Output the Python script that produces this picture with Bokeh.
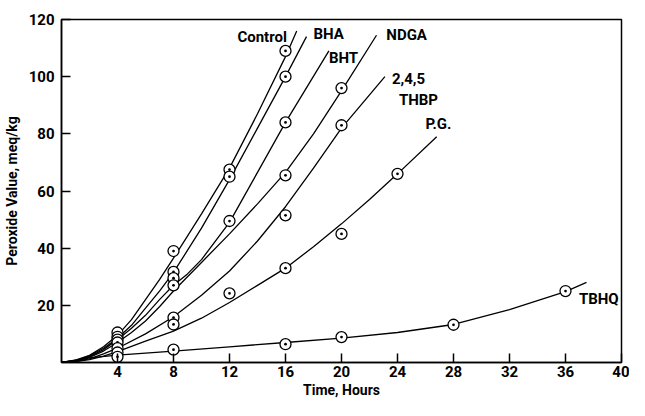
from bokeh.plotting import figure
from bokeh.models import Range1d, FixedTicker, ColumnDataSource
from bokeh.core.properties import value
from bokeh.embed import file_html
from bokeh.resources import INLINE

FONT = "Roboto"

# ---- fitted curves ----
control_x = [0, 1, 2, 3, 4, 5, 6, 7, 8, 10, 12, 14, 16, 16.8]
control_y = [0, 0.8, 2.5, 5.5, 9.5, 15, 22, 29, 36.5, 52, 68, 87, 107, 116]
bha_x = [0, 1, 2, 3, 4, 5, 6, 7, 8, 10, 12, 14, 16, 17.5]
bha_y = [0, 0.7, 2.3, 5, 8.5, 13, 19, 25, 31.5, 47, 64, 82, 100, 114]
bht_x = [0, 1, 2, 3, 4, 5, 6, 7, 8, 9, 10, 12, 14, 16, 19.1]
bht_y = [0, 0.6, 2, 4.5, 8, 12, 16.5, 22, 27, 31, 36, 49, 66.5, 84, 109]
ndga_x = [0, 1, 2, 3, 4, 5, 6, 7, 8, 9, 10, 12, 14, 16, 18, 20, 22.5]
ndga_y = [0, 0.5, 1.8, 4, 7, 10.5, 14.5, 19.5, 25, 30, 35, 45, 55.5, 66.5, 80, 95, 114.5]
thbp_x = [0, 1, 2, 3, 4, 6, 8, 10, 12, 14, 16, 18, 20, 23.1]
thbp_y = [0, 0.4, 1.3, 3, 5, 10, 16, 23.5, 32, 42.5, 54.5, 68, 82, 100]
pg_x = [0, 1, 2, 3, 4, 6, 8, 10, 12, 14, 16, 18, 20, 22, 24, 26.8]
pg_y = [0, 0.3, 1, 2.2, 3.8, 7.5, 11, 15.5, 21, 27, 33, 40.5, 48.5, 57, 66, 79]
tbhq_x = [0, 1, 2, 4, 8, 12, 16, 20, 24, 28, 32, 36, 37.5]
tbhq_y = [0, 0.8, 1.6, 2.6, 4, 5.5, 7, 8.5, 10.5, 13.3, 18.5, 24.8, 28]

# ---- measured points ----
control_px = [4, 8, 12, 16]
control_py = [10.5, 39, 67.5, 109]
bha_px = [4, 8, 12, 16]
bha_py = [9, 31.7, 65, 100]
bht_px = [4, 8, 12, 16]
bht_py = [8, 29.5, 49.5, 84]
ndga_px = [4, 8, 16, 20]
ndga_py = [7, 27, 65.5, 96]
thbp_px = [4, 8, 16, 20]
thbp_py = [5, 15.7, 51.5, 83]
pg_px = [4, 8, 12, 16, 20, 24]
pg_py = [3.5, 13.3, 24.2, 33, 45, 66]
tbhq_px = [4, 8, 16, 20, 28, 36]
tbhq_py = [2, 4.5, 6.4, 8.9, 13.2, 25]

x_ticks = [4, 8, 12, 16, 20, 24, 28, 32, 36, 40]
y_ticks = [20, 40, 60, 80, 100, 120]

label_text = ["Control", "BHA", "BHT", "NDGA", "2,4,5", "THBP", "P.G.", "TBHQ"]
label_x = [16.1, 18.0, 19.1, 23.2, 23.6, 24.1, 26.0, 39.8]
label_y = [114, 114.8, 106.5, 114.7, 99.3, 92, 83.4, 22.3]
label_align = ["right", "left", "left", "left", "left", "left", "left", "right"]

p = figure(width=629, height=400, output_backend="svg", toolbar_location=None,
           x_range=Range1d(0, 40), y_range=Range1d(0, 120),
           min_border_left=61, min_border_right=8, min_border_top=19,
           min_border_bottom=36)
p.background_fill_color = "white"
p.border_fill_color = "white"
p.outline_line_color = "black"
p.outline_line_width = 1.5
p.xgrid.visible = False
p.ygrid.visible = False

for ax, ticks in ((p.xaxis[0], x_ticks), (p.yaxis[0], y_ticks)):
    ax.ticker = FixedTicker(ticks=ticks)
    ax.major_tick_in = 9
    ax.major_tick_out = 0
    ax.minor_tick_in = 0
    ax.minor_tick_out = 0
    ax.axis_line_color = "black"
    ax.axis_line_width = 1.5
    ax.major_tick_line_width = 1.5
    ax.major_label_text_font = FONT
    ax.major_label_text_font_style = "bold"
    ax.major_label_text_font_size = "15px"
    ax.major_label_text_color = "black"
    ax.axis_label_text_font = FONT
    ax.axis_label_text_font_style = "bold"
    ax.axis_label_text_font_size = "14px"
    ax.axis_label_text_color = "black"

p.xaxis.axis_label = "Time, Hours"
p.yaxis.axis_label = "Peroxide Value, meq/kg"
p.xaxis.major_label_standoff = 3
p.xaxis.axis_label_standoff = 2
p.yaxis.major_label_standoff = 7
p.yaxis.axis_label_standoff = 6

series = [
    (control_x, control_y, control_px, control_py),
    (bha_x, bha_y, bha_px, bha_py),
    (bht_x, bht_y, bht_px, bht_py),
    (ndga_x, ndga_y, ndga_px, ndga_py),
    (thbp_x, thbp_y, thbp_px, thbp_py),
    (pg_x, pg_y, pg_px, pg_py),
    (tbhq_x, tbhq_y, tbhq_px, tbhq_py),
]
for cx, cy, px, py in series:
    p.line(cx, cy, line_color="black", line_width=1.3)
for cx, cy, px, py in series:
    p.scatter(px, py, marker="circle_dot", size=11, line_color="black",
              line_width=1.3, fill_color="white")

src = ColumnDataSource(dict(x=label_x, y=label_y, t=label_text, a=label_align))
p.text(x="x", y="y", text="t", text_align="a", text_baseline="middle",
       text_font=value(FONT), text_font_style="bold", text_font_size="15px",
       text_color="black", source=src)

open("out.html", "w").write(file_html(p, INLINE))
